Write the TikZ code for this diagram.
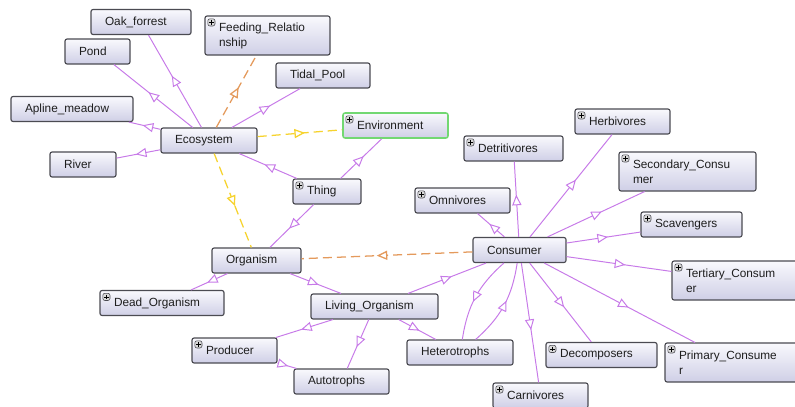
\documentclass[tikz,border=0pt]{standalone}
\usepackage{fontspec}
\setmainfont{Liberation Sans}
\usepackage{tikz}
\usetikzlibrary{arrows.meta,decorations.markings,positioning}
\definecolor{OGPurple}{HTML}{C77AE8}
\definecolor{OGOrange}{HTML}{E49A5C}
\definecolor{OGYellow}{HTML}{F6D32E}
\definecolor{OGGreen}{HTML}{72D872}
\definecolor{OGBorder}{HTML}{4B4B52}
\definecolor{OGTop}{HTML}{F9F9FD}
\definecolor{OGBottom}{HTML}{CFCFE6}
\definecolor{OGText}{HTML}{1E1E1E}
\tikzset{
    % Base class box
    classnode/.style={
        draw=OGBorder,
        top color=OGTop,
        bottom color=OGBottom,
        line width=0.8pt,
        rounded corners=1.5pt,
        minimum height=0.625cm,
        inner xsep=0.35cm,
        inner ysep=0pt,
        align=left,
        text=OGText,
        font=\fontsize{8.4}{10.6}\selectfont
    },
    % Box width in pixels of the reference
    boxw/.style={
        minimum width=#1*0.025cm,
        text width=#1*0.025cm-0.7cm
    },
    % Box with a wrapped label
    twoline/.style={
        minimum height=0.975cm
    },
    % Small plus icon of an expandable class
    expandable/.style={
        path picture={
            \draw[OGBorder, fill=gray!30, line width=0.4pt]
                ([shift={(0.07cm,-0.07cm)}]path picture bounding box.north west)
                rectangle ++(0.18cm,-0.18cm);
            \draw[black, line width=0.5pt]
                ([shift={(0.16cm,-0.1cm)}]path picture bounding box.north west) -- ++(0,-0.12cm)
                ([shift={(0.1cm,-0.16cm)}]path picture bounding box.north west) -- ++(0.12cm,0);
        }
    },
    % Subclass link
    isa/.style={
        OGPurple,
        line width=0.7pt,
        postaction={decorate},
        decoration={markings,
            mark=at position 0.56 with {\arrow{Triangle[length=7.5pt,width=6.5pt,fill=white]}}}
    },
    % Object property links
    relorange/.style={
        isa,
        OGOrange,
        line width=0.9pt,
        dash pattern=on 6.5pt off 3.5pt
    },
    relyellow/.style={
        isa,
        OGYellow,
        line width=0.9pt,
        dash pattern=on 6.5pt off 3.5pt
    }
}
\begin{document}
\begin{tikzpicture}[x=0.025cm, y=-0.025cm]
    \useasboundingbox (0,0) rectangle (795,407);

    % Ecosystem side
    \node[classnode, boxw=96] (eco) at (209,140.5) {Ecosystem};
    \node[classnode, boxw=100] (oak) at (141,22) {Oak\_forrest};
    \node[classnode, boxw=65] (pond) at (97.5,51.5) {Pond};
    \node[classnode, expandable, boxw=125, twoline] (feed) at (267.5,35.5) {Feeding\_Relatio\\nship};
    \node[classnode, boxw=94] (tidal) at (323,75.5) {Tidal\_Pool};
    \node[classnode, boxw=122] (apline) at (72,109) {Apline\_meadow};
    \node[classnode, boxw=66] (river) at (83,164.5) {River};
    \node[classnode, expandable, boxw=105, draw=OGGreen, line width=1.1pt] (env) at (395.5,125.5) {Environment};
    \node[classnode, expandable, boxw=68] (thing) at (327,191.5) {Thing};
    \node[classnode, boxw=89] (org) at (256.5,260.5) {Organism};

    % Consumer side
    \node[classnode, boxw=93] (cons) at (519.5,250) {Consumer};
    \node[classnode, expandable, boxw=95] (herb) at (622.5,121.5) {Herbivores};
    \node[classnode, expandable, boxw=99] (detr) at (513.5,148.5) {Detritivores};
    \node[classnode, expandable, boxw=137, twoline] (second) at (687.5,171.5) {Secondary\_Consu\\mer};
    \node[classnode, expandable, boxw=95] (omni) at (462.5,200.5) {Omnivores};
    \node[classnode, expandable, boxw=101] (scav) at (691.5,224.5) {Scavengers};
    \node[classnode, expandable, boxw=128, twoline] (tert) at (736,280.5) {Tertiary\_Consum\\er};
    \node[classnode, expandable, boxw=111] (decomp) at (601.5,355) {Decomposers};
    \node[classnode, expandable, boxw=136, twoline] (prim) at (733,362.5) {Primary\_Consume\\r};
    \node[classnode, expandable, boxw=95] (carn) at (540.5,395.5) {Carnivores};

    % Organism side
    \node[classnode, expandable, boxw=124] (dead) at (162,303) {Dead\_Organism};
    \node[classnode, boxw=127] (living) at (374.5,306.5) {Living\_Organism};
    \node[classnode, expandable, boxw=85] (prod) at (234.5,350.5) {Producer};
    \node[classnode, boxw=95] (auto) at (341.5,381.5) {Autotrophs};
    \node[classnode, boxw=106] (hetero) at (460,352.5) {Heterotrophs};

    % Subclass links
    \foreach \sub in {oak,pond,tidal,apline,river}
        \draw[isa] (eco) -- (\sub);
    \draw[isa] (thing) -- (eco);
    \draw[isa] (thing) -- (env);
    \draw[isa] (thing) -- (org);
    \draw[isa] (org) -- (dead);
    \draw[isa] (org) -- (living);
    \foreach \sub in {prod,auto,hetero,cons}
        \draw[isa] (living) -- (\sub);
    \draw[isa] (prod) -- (auto);
    \foreach \sub in {omni,detr,herb,second,scav,tert,prim,decomp,carn}
        \draw[isa] (cons) -- (\sub);
    \draw[isa] (cons) to[bend right=20] (hetero);
    \draw[isa] (hetero) to[bend right=20] (cons);

    % Property links
    \draw[relorange] (eco) -- (feed);
    \draw[relyellow] (eco) -- (env);
    \draw[relyellow] (eco) -- (org);
    \draw[relorange] (cons) -- (org);
\end{tikzpicture}
\end{document}
